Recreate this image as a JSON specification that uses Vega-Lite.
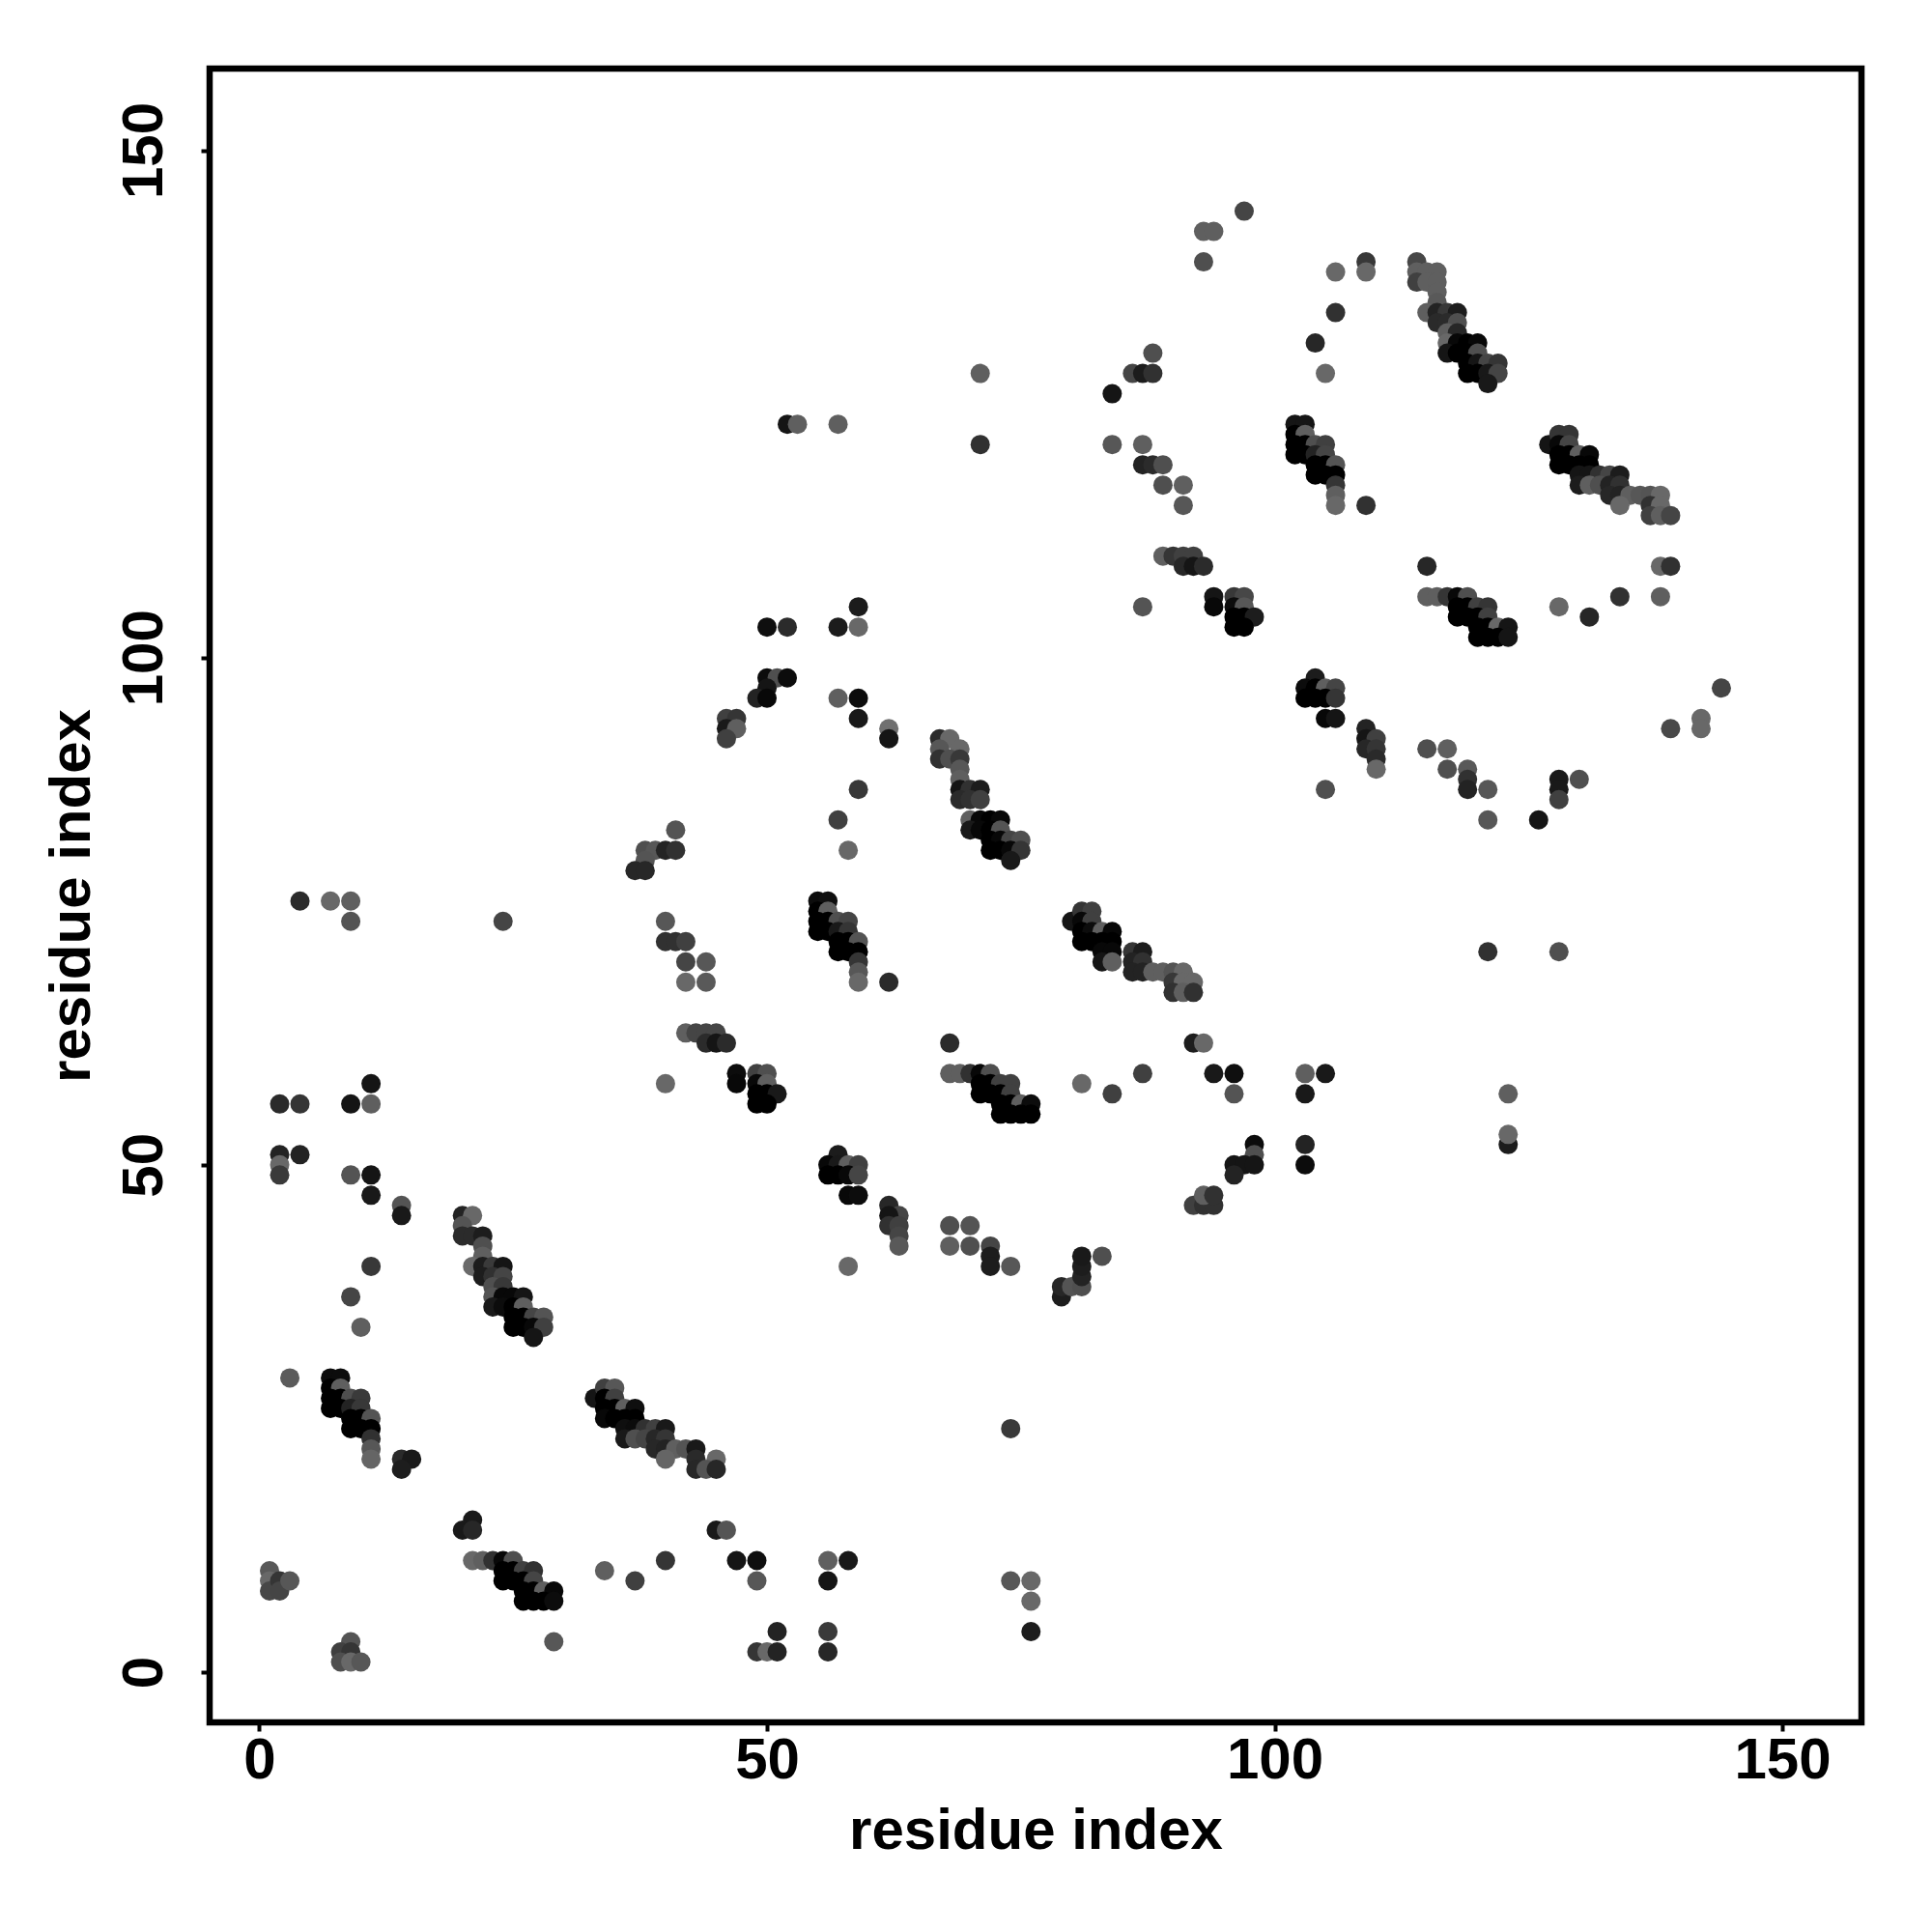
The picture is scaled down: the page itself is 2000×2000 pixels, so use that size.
{"$schema":"https://vega.github.io/schema/vega-lite/v6.json","width":1710,"height":1712,"autosize":"none","padding":{"left":217,"top":71,"right":73,"bottom":217},"background":"white","view":{"stroke":"black","strokeWidth":6.5,"fill":"white"},
"data":{"values":[
{"x":2,"y":51,"w":32},{"x":4,"y":51,"w":32},{"x":2,"y":50,"w":104},{"x":2,"y":49,"w":58},{"x":9,"y":49,"w":85},{"x":11,"y":49,"w":16},{"x":11,"y":47,"w":21},{"x":14,"y":46,"w":85},{"x":14,"y":45,"w":21},{"x":11,"y":40,"w":56},{"x":9,"y":37,"w":69},{"x":10,"y":34,"w":96},
{"x":20,"y":45,"w":32},{"x":21,"y":45,"w":104},{"x":20,"y":44,"w":85},{"x":20,"y":43,"w":42},{"x":21,"y":43,"w":42},{"x":22,"y":43,"w":26},{"x":22,"y":42,"w":80},{"x":22,"y":41,"w":96},{"x":21,"y":40,"w":106},{"x":22,"y":40,"w":26},{"x":23,"y":40,"w":58},{"x":24,"y":40,"w":16},{"x":22,"y":39,"w":26},{"x":23,"y":39,"w":48},{"x":24,"y":39,"w":69},{"x":23,"y":38,"w":80},{"x":24,"y":38,"w":56},{"x":23,"y":37,"w":85},{"x":24,"y":37,"w":5},{"x":25,"y":37,"w":5},{"x":26,"y":37,"w":16},{"x":23,"y":36,"w":21},{"x":24,"y":36,"w":8},{"x":25,"y":36,"w":0},{"x":26,"y":36,"w":96},{"x":25,"y":35,"w":0},{"x":26,"y":35,"w":0},{"x":27,"y":35,"w":69},{"x":28,"y":35,"w":85},{"x":25,"y":34,"w":0},{"x":26,"y":34,"w":0},{"x":27,"y":34,"w":5},{"x":28,"y":34,"w":64},{"x":27,"y":33,"w":16},
{"x":3,"y":29,"w":92},{"x":7,"y":29,"w":8},{"x":8,"y":29,"w":8},{"x":7,"y":28,"w":0},{"x":8,"y":28,"w":96},{"x":7,"y":27,"w":0},{"x":8,"y":27,"w":0},{"x":9,"y":27,"w":80},{"x":10,"y":27,"w":58},{"x":7,"y":26,"w":0},{"x":8,"y":26,"w":0},{"x":9,"y":26,"w":32},{"x":10,"y":26,"w":56},{"x":9,"y":25,"w":0},{"x":10,"y":25,"w":0},{"x":11,"y":25,"w":85},{"x":9,"y":24,"w":0},{"x":10,"y":24,"w":0},{"x":11,"y":24,"w":0},{"x":11,"y":23,"w":48},{"x":11,"y":22,"w":88},{"x":11,"y":21,"w":101},{"x":14,"y":21,"w":40},{"x":15,"y":21,"w":21},{"x":14,"y":20,"w":26},
{"x":33,"y":27,"w":16},{"x":34,"y":28,"w":64},{"x":35,"y":28,"w":88},{"x":34,"y":27,"w":0},{"x":35,"y":27,"w":64},{"x":34,"y":26,"w":0},{"x":35,"y":26,"w":0},{"x":36,"y":26,"w":96},{"x":37,"y":26,"w":10},{"x":34,"y":25,"w":5},{"x":35,"y":25,"w":0},{"x":36,"y":25,"w":0},{"x":37,"y":25,"w":0},{"x":36,"y":24,"w":10},{"x":37,"y":24,"w":8},{"x":38,"y":24,"w":48},{"x":39,"y":24,"w":64},{"x":40,"y":24,"w":21},{"x":36,"y":23,"w":21},{"x":37,"y":23,"w":80},{"x":38,"y":23,"w":69},{"x":39,"y":23,"w":37},{"x":40,"y":23,"w":53},{"x":39,"y":22,"w":37},{"x":40,"y":22,"w":32},{"x":41,"y":22,"w":96},{"x":42,"y":22,"w":85},{"x":43,"y":22,"w":21},{"x":40,"y":21,"w":101},{"x":43,"y":21,"w":40},{"x":45,"y":21,"w":104},{"x":43,"y":20,"w":37},{"x":44,"y":20,"w":85},{"x":45,"y":20,"w":37},
{"x":21,"y":15,"w":21},{"x":20,"y":14,"w":21},{"x":21,"y":14,"w":37},{"x":21,"y":11,"w":104},{"x":22,"y":11,"w":96},{"x":23,"y":11,"w":48},{"x":24,"y":11,"w":5},{"x":25,"y":11,"w":80},{"x":24,"y":10,"w":0},{"x":25,"y":10,"w":0},{"x":26,"y":10,"w":64},{"x":27,"y":10,"w":48},{"x":24,"y":9,"w":0},{"x":25,"y":9,"w":0},{"x":26,"y":9,"w":0},{"x":27,"y":9,"w":69},{"x":26,"y":8,"w":0},{"x":27,"y":8,"w":0},{"x":28,"y":8,"w":96},{"x":29,"y":8,"w":5},{"x":26,"y":7,"w":0},{"x":27,"y":7,"w":0},{"x":28,"y":7,"w":0},{"x":29,"y":7,"w":8},{"x":29,"y":3,"w":88},
{"x":1,"y":10,"w":90},{"x":1,"y":9,"w":104},{"x":1,"y":8,"w":72},{"x":2,"y":9,"w":53},{"x":2,"y":8,"w":69},{"x":3,"y":9,"w":88},{"x":9,"y":3,"w":85},{"x":8,"y":2,"w":64},{"x":9,"y":2,"w":53},{"x":8,"y":1,"w":80},{"x":9,"y":1,"w":104},{"x":10,"y":1,"w":88},
{"x":34,"y":10,"w":96},{"x":37,"y":9,"w":64},{"x":40,"y":11,"w":53},{"x":45,"y":14,"w":21},{"x":46,"y":14,"w":85},{"x":47,"y":11,"w":16},{"x":49,"y":11,"w":10},{"x":49,"y":9,"w":88},{"x":49,"y":2,"w":53},{"x":50,"y":2,"w":104},{"x":51,"y":2,"w":32},{"x":51,"y":4,"w":32},
{"x":2,"y":56,"w":40},{"x":4,"y":56,"w":53},{"x":9,"y":56,"w":16},{"x":11,"y":56,"w":96},{"x":11,"y":58,"w":16},{"x":4,"y":76,"w":42},{"x":7,"y":76,"w":104},{"x":9,"y":76,"w":96},{"x":9,"y":74,"w":85},{"x":24,"y":74,"w":69},{"x":74,"y":24,"w":58},{"x":56,"y":11,"w":96},{"x":58,"y":11,"w":21},{"x":56,"y":9,"w":16},{"x":74,"y":9,"w":88},{"x":76,"y":9,"w":104},{"x":76,"y":7,"w":104},{"x":76,"y":4,"w":26},{"x":56,"y":4,"w":58},{"x":56,"y":2,"w":37},
{"x":59,"y":105,"w":24},{"x":50,"y":103,"w":10},{"x":52,"y":103,"w":42},{"x":57,"y":103,"w":24},{"x":59,"y":103,"w":104},{"x":87,"y":105,"w":85},{"x":50,"y":98,"w":8},{"x":51,"y":98,"w":80},{"x":52,"y":98,"w":8},{"x":50,"y":97,"w":16},{"x":49,"y":96,"w":32},{"x":50,"y":96,"w":5},{"x":46,"y":94,"w":64},{"x":47,"y":94,"w":53},{"x":46,"y":93,"w":21},{"x":47,"y":93,"w":96},{"x":46,"y":92,"w":64},{"x":57,"y":96,"w":96},{"x":59,"y":96,"w":8},{"x":59,"y":94,"w":21},{"x":62,"y":93,"w":112},{"x":62,"y":92,"w":16},{"x":59,"y":87,"w":56},{"x":57,"y":84,"w":64},{"x":58,"y":81,"w":104},{"x":41,"y":83,"w":85},{"x":38,"y":81,"w":80},{"x":39,"y":81,"w":88},{"x":40,"y":81,"w":34},{"x":41,"y":81,"w":48},{"x":38,"y":80,"w":85},{"x":37,"y":79,"w":37},{"x":38,"y":79,"w":37},
{"x":67,"y":92,"w":42},{"x":68,"y":92,"w":104},{"x":67,"y":91,"w":88},{"x":69,"y":91,"w":104},{"x":67,"y":90,"w":48},{"x":68,"y":90,"w":80},{"x":69,"y":90,"w":56},{"x":69,"y":89,"w":88},{"x":69,"y":88,"w":96},{"x":69,"y":87,"w":16},{"x":70,"y":87,"w":48},{"x":71,"y":87,"w":24},{"x":69,"y":86,"w":40},{"x":70,"y":86,"w":48},{"x":71,"y":86,"w":64},{"x":70,"y":84,"w":96},{"x":71,"y":84,"w":5},{"x":72,"y":84,"w":0},{"x":73,"y":84,"w":5},{"x":70,"y":83,"w":21},{"x":71,"y":83,"w":5},{"x":72,"y":83,"w":0},{"x":73,"y":83,"w":85},{"x":72,"y":82,"w":0},{"x":73,"y":82,"w":5},{"x":74,"y":82,"w":69},{"x":75,"y":82,"w":80},{"x":72,"y":81,"w":0},{"x":73,"y":81,"w":0},{"x":74,"y":81,"w":5},{"x":75,"y":81,"w":53},{"x":74,"y":80,"w":21},
{"x":55,"y":76,"w":8},{"x":56,"y":76,"w":10},{"x":55,"y":75,"w":0},{"x":56,"y":75,"w":96},{"x":55,"y":74,"w":0},{"x":56,"y":74,"w":0},{"x":57,"y":74,"w":80},{"x":58,"y":74,"w":69},{"x":55,"y":73,"w":0},{"x":56,"y":73,"w":0},{"x":57,"y":73,"w":21},{"x":58,"y":73,"w":53},{"x":57,"y":72,"w":0},{"x":58,"y":72,"w":0},{"x":59,"y":72,"w":85},{"x":57,"y":71,"w":0},{"x":58,"y":71,"w":0},{"x":59,"y":71,"w":0},{"x":59,"y":70,"w":53},{"x":59,"y":69,"w":88},{"x":59,"y":68,"w":104},{"x":62,"y":68,"w":42},
{"x":40,"y":74,"w":88},{"x":40,"y":72,"w":48},{"x":41,"y":72,"w":48},{"x":42,"y":72,"w":64},{"x":42,"y":70,"w":69},{"x":44,"y":70,"w":88},{"x":42,"y":68,"w":104},{"x":44,"y":68,"w":90},{"x":42,"y":63,"w":96},{"x":43,"y":63,"w":69},{"x":44,"y":63,"w":69},{"x":45,"y":63,"w":69},{"x":44,"y":62,"w":42},{"x":45,"y":62,"w":16},{"x":46,"y":62,"w":42},{"x":47,"y":59,"w":8},{"x":47,"y":58,"w":5},{"x":49,"y":59,"w":64},{"x":50,"y":59,"w":80},{"x":49,"y":58,"w":5},{"x":50,"y":58,"w":96},{"x":49,"y":57,"w":0},{"x":50,"y":57,"w":0},{"x":51,"y":57,"w":21},{"x":49,"y":56,"w":0},{"x":50,"y":56,"w":0},{"x":40,"y":58,"w":104},
{"x":68,"y":62,"w":42},{"x":68,"y":59,"w":96},{"x":69,"y":59,"w":96},{"x":70,"y":59,"w":48},{"x":71,"y":59,"w":5},{"x":72,"y":59,"w":80},{"x":71,"y":58,"w":0},{"x":72,"y":58,"w":0},{"x":73,"y":58,"w":64},{"x":74,"y":58,"w":64},{"x":71,"y":57,"w":0},{"x":72,"y":57,"w":0},{"x":73,"y":57,"w":0},{"x":74,"y":57,"w":64},{"x":73,"y":56,"w":0},{"x":74,"y":56,"w":0},{"x":75,"y":56,"w":96},{"x":76,"y":56,"w":8},{"x":73,"y":55,"w":0},{"x":74,"y":55,"w":0},{"x":75,"y":55,"w":0},{"x":76,"y":55,"w":0},{"x":81,"y":58,"w":104},{"x":84,"y":57,"w":64},{"x":87,"y":59,"w":64},{"x":92,"y":62,"w":26},{"x":93,"y":62,"w":104},{"x":94,"y":59,"w":21},{"x":96,"y":59,"w":10},{"x":96,"y":57,"w":85},{"x":98,"y":52,"w":8},{"x":98,"y":51,"w":80},{"x":96,"y":50,"w":16},{"x":97,"y":50,"w":16},{"x":98,"y":50,"w":16},{"x":96,"y":49,"w":32},{"x":92,"y":46,"w":64},{"x":93,"y":46,"w":48},{"x":94,"y":46,"w":48},{"x":93,"y":47,"w":96},{"x":94,"y":47,"w":48},
{"x":57,"y":51,"w":24},{"x":56,"y":50,"w":5},{"x":57,"y":50,"w":21},{"x":58,"y":50,"w":96},{"x":59,"y":50,"w":64},{"x":56,"y":49,"w":0},{"x":57,"y":49,"w":0},{"x":58,"y":49,"w":5},{"x":59,"y":49,"w":69},{"x":58,"y":47,"w":5},{"x":59,"y":47,"w":8},{"x":62,"y":46,"w":37},{"x":63,"y":45,"w":69},{"x":62,"y":45,"w":16},{"x":62,"y":44,"w":48},{"x":63,"y":44,"w":64},{"x":63,"y":43,"w":69},{"x":63,"y":42,"w":90},{"x":58,"y":40,"w":104},{"x":68,"y":44,"w":80},{"x":70,"y":44,"w":85},{"x":68,"y":42,"w":96},{"x":70,"y":42,"w":80},{"x":72,"y":42,"w":69},{"x":72,"y":41,"w":26},{"x":72,"y":40,"w":26},{"x":74,"y":40,"w":88},{"x":79,"y":37,"w":26},{"x":79,"y":38,"w":37},{"x":80,"y":38,"w":85},{"x":81,"y":38,"w":80},{"x":81,"y":39,"w":32},{"x":81,"y":40,"w":26},{"x":81,"y":41,"w":21},{"x":83,"y":41,"w":80},
{"x":97,"y":144,"w":69},{"x":93,"y":142,"w":96},{"x":94,"y":142,"w":96},{"x":93,"y":139,"w":80},{"x":106,"y":138,"w":104},{"x":109,"y":139,"w":56},{"x":109,"y":138,"w":104},{"x":114,"y":139,"w":72},{"x":114,"y":138,"w":96},{"x":115,"y":138,"w":96},{"x":116,"y":138,"w":96},{"x":114,"y":137,"w":64},{"x":115,"y":137,"w":96},{"x":116,"y":137,"w":96},{"x":116,"y":136,"w":96},{"x":116,"y":135,"w":90},{"x":115,"y":134,"w":96},{"x":116,"y":134,"w":32},{"x":117,"y":134,"w":56},{"x":118,"y":134,"w":26},{"x":116,"y":133,"w":40},{"x":117,"y":133,"w":42},{"x":118,"y":133,"w":80},{"x":117,"y":132,"w":96},{"x":118,"y":132,"w":37},{"x":117,"y":131,"w":104},{"x":118,"y":131,"w":5},{"x":119,"y":131,"w":0},{"x":120,"y":131,"w":5},{"x":117,"y":130,"w":16},{"x":118,"y":130,"w":0},{"x":119,"y":130,"w":0},{"x":120,"y":130,"w":80},{"x":119,"y":129,"w":0},{"x":120,"y":129,"w":16},{"x":121,"y":129,"w":69},{"x":122,"y":129,"w":53},{"x":119,"y":128,"w":0},{"x":120,"y":128,"w":0},{"x":121,"y":128,"w":21},{"x":122,"y":128,"w":69},{"x":121,"y":127,"w":21},
{"x":106,"y":134,"w":48},{"x":104,"y":131,"w":37},{"x":105,"y":128,"w":104},{"x":88,"y":130,"w":80},{"x":86,"y":128,"w":69},{"x":87,"y":128,"w":24},{"x":88,"y":128,"w":48},{"x":84,"y":126,"w":16},{"x":84,"y":121,"w":88},{"x":87,"y":121,"w":96},{"x":87,"y":119,"w":32},{"x":88,"y":119,"w":42},{"x":89,"y":119,"w":80},{"x":89,"y":117,"w":80},{"x":91,"y":117,"w":96},{"x":91,"y":115,"w":88},{"x":89,"y":110,"w":96},{"x":90,"y":110,"w":53},{"x":91,"y":110,"w":64},{"x":92,"y":110,"w":64},{"x":91,"y":109,"w":37},{"x":92,"y":109,"w":16},{"x":93,"y":109,"w":42},{"x":94,"y":106,"w":16},{"x":94,"y":105,"w":5},{"x":96,"y":106,"w":56},{"x":97,"y":106,"w":72},{"x":96,"y":105,"w":8},{"x":97,"y":105,"w":88},{"x":96,"y":104,"w":0},{"x":97,"y":104,"w":0},{"x":98,"y":104,"w":26},{"x":96,"y":103,"w":0},{"x":97,"y":103,"w":0},
{"x":102,"y":123,"w":16},{"x":103,"y":123,"w":16},{"x":102,"y":122,"w":0},{"x":103,"y":122,"w":96},{"x":102,"y":121,"w":0},{"x":103,"y":121,"w":0},{"x":104,"y":121,"w":80},{"x":105,"y":121,"w":64},{"x":102,"y":120,"w":0},{"x":103,"y":120,"w":0},{"x":104,"y":120,"w":32},{"x":105,"y":120,"w":69},{"x":104,"y":119,"w":0},{"x":105,"y":119,"w":0},{"x":106,"y":119,"w":85},{"x":104,"y":118,"w":0},{"x":105,"y":118,"w":0},{"x":106,"y":118,"w":0},{"x":106,"y":117,"w":53},{"x":106,"y":116,"w":96},{"x":106,"y":115,"w":104},{"x":109,"y":115,"w":48},
{"x":127,"y":121,"w":16},{"x":128,"y":122,"w":53},{"x":129,"y":122,"w":53},{"x":128,"y":121,"w":5},{"x":129,"y":121,"w":69},{"x":128,"y":120,"w":0},{"x":129,"y":120,"w":0},{"x":130,"y":120,"w":96},{"x":131,"y":120,"w":5},{"x":128,"y":119,"w":0},{"x":129,"y":119,"w":0},{"x":130,"y":119,"w":0},{"x":131,"y":119,"w":0},{"x":130,"y":118,"w":16},{"x":131,"y":118,"w":16},{"x":132,"y":118,"w":48},{"x":133,"y":118,"w":69},{"x":134,"y":118,"w":24},{"x":130,"y":117,"w":24},{"x":131,"y":117,"w":96},{"x":132,"y":117,"w":80},{"x":133,"y":117,"w":32},{"x":134,"y":117,"w":48},{"x":133,"y":116,"w":37},{"x":134,"y":116,"w":32},{"x":135,"y":116,"w":96},{"x":136,"y":116,"w":88},{"x":137,"y":116,"w":85},{"x":138,"y":116,"w":104},{"x":134,"y":115,"w":104},{"x":137,"y":115,"w":48},{"x":138,"y":115,"w":104},{"x":137,"y":114,"w":64},{"x":138,"y":114,"w":96},{"x":139,"y":114,"w":69},{"x":138,"y":109,"w":104},{"x":139,"y":109,"w":48},{"x":138,"y":106,"w":96},
{"x":115,"y":109,"w":37},{"x":115,"y":106,"w":96},{"x":116,"y":106,"w":96},{"x":117,"y":106,"w":53},{"x":118,"y":106,"w":5},{"x":119,"y":106,"w":80},{"x":118,"y":105,"w":0},{"x":119,"y":105,"w":0},{"x":120,"y":105,"w":64},{"x":121,"y":105,"w":53},{"x":118,"y":104,"w":0},{"x":119,"y":104,"w":0},{"x":120,"y":104,"w":0},{"x":121,"y":104,"w":64},{"x":120,"y":103,"w":0},{"x":121,"y":103,"w":0},{"x":122,"y":103,"w":104},{"x":123,"y":103,"w":16},{"x":120,"y":102,"w":0},{"x":121,"y":102,"w":0},{"x":122,"y":102,"w":0},{"x":123,"y":102,"w":16},{"x":128,"y":105,"w":104},{"x":131,"y":104,"w":37},{"x":134,"y":106,"w":48},
{"x":144,"y":97,"w":69},{"x":139,"y":93,"w":74},{"x":142,"y":94,"w":104},{"x":142,"y":93,"w":104},{"x":104,"y":98,"w":24},{"x":103,"y":97,"w":8},{"x":104,"y":97,"w":0},{"x":105,"y":97,"w":96},{"x":106,"y":97,"w":69},{"x":103,"y":96,"w":0},{"x":104,"y":96,"w":0},{"x":105,"y":96,"w":0},{"x":106,"y":96,"w":53},{"x":105,"y":94,"w":5},{"x":106,"y":94,"w":16},{"x":109,"y":93,"w":32},{"x":109,"y":92,"w":16},{"x":110,"y":92,"w":64},{"x":109,"y":91,"w":37},{"x":110,"y":91,"w":53},{"x":110,"y":90,"w":40},{"x":110,"y":89,"w":104},{"x":105,"y":87,"w":80},{"x":115,"y":91,"w":80},{"x":117,"y":91,"w":96},{"x":117,"y":89,"w":80},{"x":119,"y":89,"w":90},{"x":119,"y":88,"w":48},{"x":119,"y":87,"w":32},{"x":121,"y":87,"w":88},{"x":121,"y":84,"w":88},{"x":126,"y":84,"w":16},{"x":128,"y":88,"w":21},{"x":128,"y":87,"w":21},{"x":128,"y":86,"w":64},{"x":130,"y":88,"w":80},
{"x":71,"y":128,"w":96},{"x":71,"y":121,"w":48},{"x":52,"y":123,"w":16},{"x":53,"y":123,"w":96},{"x":57,"y":123,"w":96},{"x":121,"y":71,"w":48},{"x":128,"y":71,"w":80},{"x":123,"y":52,"w":24},{"x":123,"y":53,"w":104},{"x":123,"y":57,"w":96},{"x":103,"y":59,"w":96},{"x":105,"y":59,"w":21},{"x":103,"y":57,"w":21},{"x":103,"y":52,"w":32},{"x":103,"y":50,"w":8},
{"x":80,"y":74,"w":16},{"x":81,"y":75,"w":53},{"x":82,"y":75,"w":64},{"x":81,"y":74,"w":5},{"x":82,"y":74,"w":64},{"x":81,"y":73,"w":0},{"x":82,"y":73,"w":8},{"x":83,"y":73,"w":96},{"x":84,"y":73,"w":5},{"x":81,"y":72,"w":0},{"x":82,"y":72,"w":0},{"x":83,"y":72,"w":0},{"x":84,"y":72,"w":0},{"x":83,"y":71,"w":5},{"x":84,"y":71,"w":5},{"x":86,"y":71,"w":53},{"x":87,"y":71,"w":24},{"x":83,"y":70,"w":16},{"x":84,"y":70,"w":96},{"x":86,"y":70,"w":32},{"x":87,"y":70,"w":48},{"x":86,"y":69,"w":32},{"x":87,"y":69,"w":32},{"x":88,"y":69,"w":96},{"x":89,"y":69,"w":96},{"x":90,"y":69,"w":85},{"x":91,"y":69,"w":104},{"x":90,"y":68,"w":56},{"x":91,"y":68,"w":104},{"x":92,"y":68,"w":104},{"x":90,"y":67,"w":48},{"x":91,"y":67,"w":96},{"x":92,"y":67,"w":48}
]},
"mark":{"type":"circle","size":400,"opacity":1},
"encoding":{
"x":{"field":"x","type":"quantitative","scale":{"domain":[-4.9,157.8],"nice":false,"zero":false},"axis":{"title":"residue index","values":[0,50,100,150],"grid":false,"domain":false,"tickColor":"black","tickWidth":4,"tickSize":9,"labelFont":"Liberation Sans","labelFontWeight":"bold","labelFontSize":60,"labelColor":"black","labelPadding":1,"titleFont":"Liberation Sans","titleFontWeight":"bold","titleFontSize":60,"titleColor":"black","titlePadding":14}},
"y":{"field":"y","type":"quantitative","scale":{"domain":[-4.95,158.05],"nice":false,"zero":false},"axis":{"title":"residue index","values":[0,50,100,150],"grid":false,"domain":false,"tickColor":"black","tickWidth":4,"tickSize":9,"labelFont":"Liberation Sans","labelFontWeight":"bold","labelFontSize":60,"labelColor":"black","labelAngle":-90,"labelAlign":"center","labelBaseline":"bottom","labelPadding":28,"titleFont":"Liberation Sans","titleFontWeight":"bold","titleFontSize":60,"titleColor":"black","titlePadding":14}},
"color":{"field":"w","type":"quantitative","legend":null,"scale":{"domain":[0,112],"range":["#000000","#707070"]}},
"order":[{"field":"y","type":"quantitative"},{"field":"x","type":"quantitative"}]
}}
